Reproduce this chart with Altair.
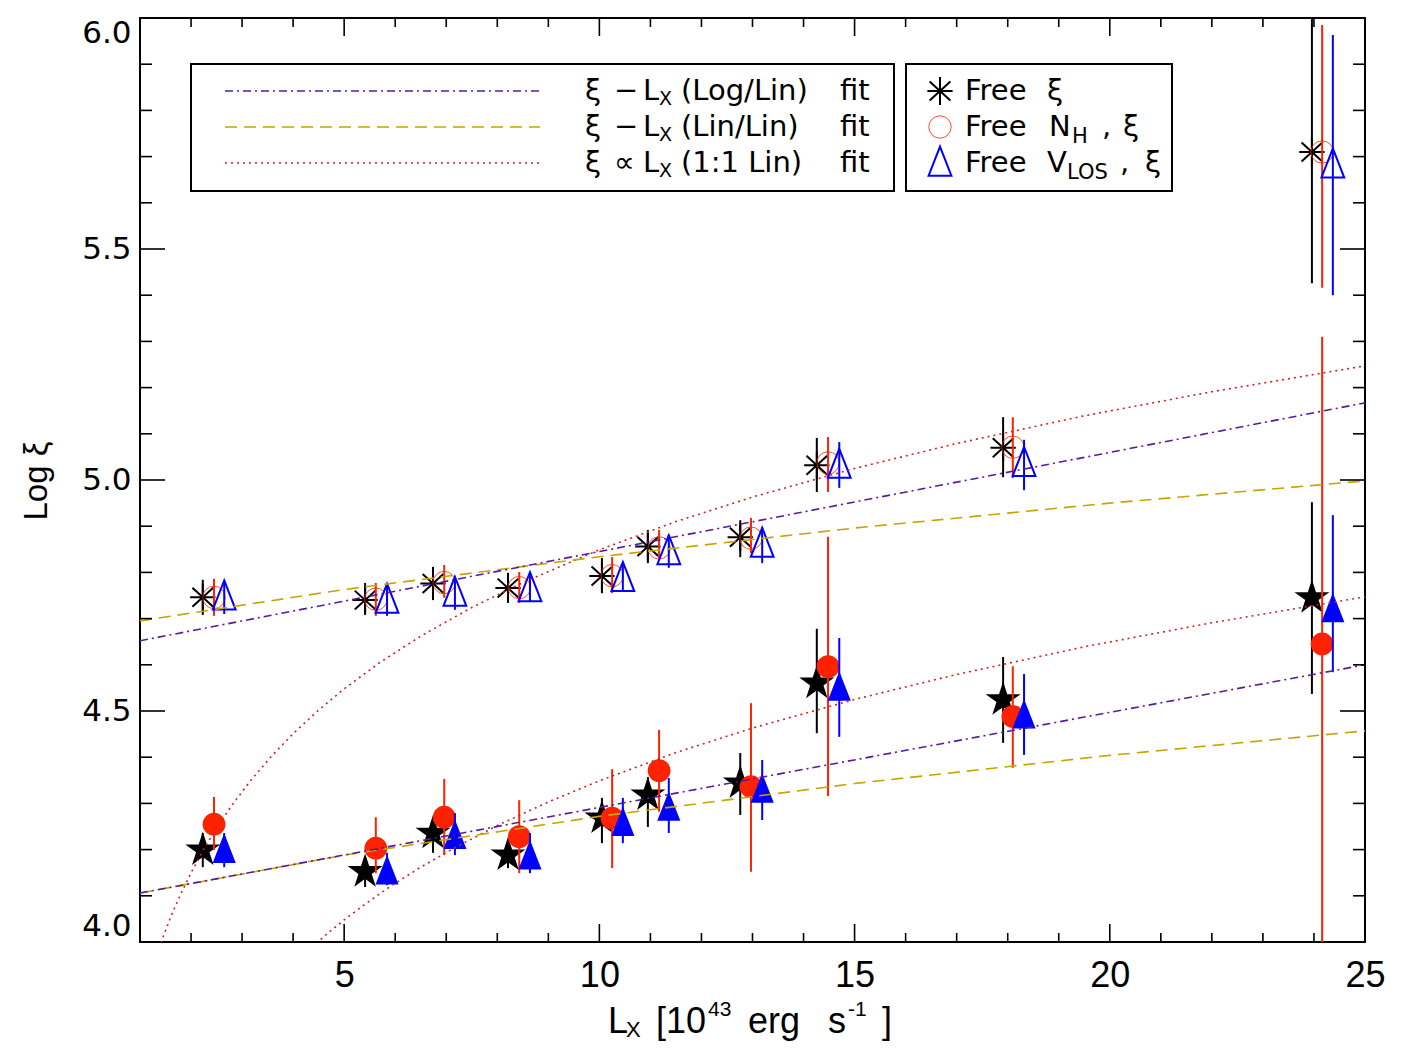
import altair as alt
import pandas as pd

# ---------------- data ----------------
# x positions (L_X, 10^43 erg/s) of the three symbol families
lx_star = [2.23, 5.41, 6.74, 8.21, 10.05, 10.95, 12.76, 14.26, 17.91, 23.96]
lx_circ = [2.45, 5.62, 6.96, 8.43, 10.25, 11.17, 12.97, 14.48, 18.10, 24.16]
lx_tri = [2.65, 5.84, 7.17, 8.64, 10.46, 11.36, 13.19, 14.70, 18.32, 24.37]

# upper group (open symbols)
up_free = [4.746, 4.740, 4.776, 4.766, 4.792, 4.856, 4.876, 5.032, 5.070, 5.710]
up_free_lo = [4.708, 4.708, 4.740, 4.734, 4.755, 4.820, 4.833, 4.974, 5.006, 5.426]
up_free_hi = [4.784, 4.777, 4.812, 4.799, 4.831, 4.892, 4.913, 5.091, 5.136, 6.030]
up_nh = [4.746, 4.742, 4.778, 4.767, 4.793, 4.853, 4.874, 5.037, 5.071, 5.710]
up_nh_lo = [4.706, 4.706, 4.745, 4.734, 4.755, 4.831, 4.842, 4.974, 5.004, 5.416]
up_nh_hi = [4.786, 4.777, 4.816, 4.801, 4.833, 4.892, 4.918, 5.093, 5.136, 5.985]
up_v = [4.747, 4.740, 4.755, 4.765, 4.787, 4.845, 4.861, 5.032, 5.036, 5.682]
up_v_lo = [4.710, 4.706, 4.719, 4.736, 4.758, 4.810, 4.820, 4.983, 4.978, 5.400]
up_v_hi = [4.781, 4.771, 4.788, 4.794, 4.822, 4.881, 4.898, 5.082, 5.087, 5.963]

# lower group (filled symbols)
lo_free = [4.199, 4.152, 4.235, 4.188, 4.268, 4.318, 4.344, 4.560, 4.524, 4.745]
lo_free_lo = [4.162, 4.119, 4.193, 4.160, 4.214, 4.249, 4.275, 4.452, 4.431, 4.537]
lo_free_hi = [4.236, 4.184, 4.268, 4.221, 4.312, 4.357, 4.409, 4.678, 4.617, 4.952]
lo_nh = [4.255, 4.203, 4.270, 4.228, 4.268, 4.371, 4.336, 4.596, 4.488, 4.645]
lo_nh_lo = [4.199, 4.149, 4.188, 4.149, 4.160, 4.282, 4.152, 4.316, 4.377, 3.870]
lo_nh_hi = [4.314, 4.270, 4.353, 4.307, 4.374, 4.459, 4.517, 4.877, 4.597, 5.310]
lo_v = [4.199, 4.152, 4.229, 4.185, 4.257, 4.290, 4.329, 4.550, 4.490, 4.720]
lo_v_lo = [4.162, 4.123, 4.188, 4.149, 4.214, 4.236, 4.264, 4.444, 4.405, 4.584]
lo_v_hi = [4.236, 4.193, 4.279, 4.236, 4.312, 4.355, 4.394, 4.658, 4.580, 4.924]

# fit curves (sampled from the figure)
loglin_x = [1.0, 25.0]
loglin_up = [4.652, 5.167]
loglin_lo = [4.106, 4.600]
linlin_x = [1.0, 5.0, 10.0, 15.0, 20.0, 25.0]
linlin_up = [4.695, 4.763, 4.834, 4.896, 4.950, 4.998]
linlin_lo = [4.106, 4.188, 4.272, 4.343, 4.404, 4.457]
one2one_up_x = [1.41, 1.5, 1.65, 1.8, 2.0, 2.25, 2.5, 2.8, 3.2, 3.6, 4.0, 4.5, 5.0,
                5.7, 6.5, 7.5, 8.5, 10.0, 11.5, 13.0, 15.0, 17.0, 19.5, 22.0, 25.0]
one2one_up = [3.998, 4.025, 4.067, 4.104, 4.150, 4.201, 4.247, 4.296, 4.354, 4.405,
              4.451, 4.502, 4.548, 4.605, 4.662, 4.724, 4.778, 4.849, 4.910, 4.963,
              5.025, 5.079, 5.139, 5.191, 5.247]
one2one_lo_x = [4.45, 4.7, 5.0, 5.4, 5.9, 6.5, 7.2, 8.0, 9.0, 10.0, 11.5, 13.0,
                15.0, 17.0, 19.5, 22.0, 25.0]
one2one_lo = [3.997, 4.021, 4.048, 4.081, 4.120, 4.162, 4.206, 4.252, 4.303, 4.349,
              4.410, 4.463, 4.525, 4.579, 4.639, 4.691, 4.747]

# axis ticks
x_labels = [5, 10, 15, 20, 25]
x_major = [5, 10, 15, 20]
x_minor = [2, 3, 4, 6, 7, 8, 9, 11, 12, 13, 14, 16, 17, 18, 19, 21, 22, 23, 24]
y_labels = [4.0, 4.5, 5.0, 5.5, 6.0]
y_major = [4.5, 5.0, 5.5]
y_minor = [4.1, 4.2, 4.3, 4.4, 4.6, 4.7, 4.8, 4.9, 5.1, 5.2, 5.3, 5.4, 5.6, 5.7, 5.8, 5.9]

# ---------------- styling ----------------
W, H = 1225, 924
BLACK, RED, BLUE = "#000000", "#ff2200", "#0000ff"
PURPLE, GOLD, DRED = "#5a1a9c", "#c9a300", "#d42020"
STAR = ("M0,-1L0.2245,-0.309L0.9511,-0.309L0.3633,0.118L0.5878,0.809L0,0.382"
        "L-0.5878,0.809L-0.3633,0.118L-0.9511,-0.309L-0.2245,-0.309Z")
ASTER = "M0,-1.1L0,1.1M-1,0L1,0M-0.82,-0.75L0.82,0.75M-0.82,0.75L0.82,-0.75"
TRI = "M0,-1.3L0.9,1L-0.9,1Z"

xs = alt.Scale(domain=[1, 25], nice=False, zero=False)
ys = alt.Scale(domain=[4.0, 6.0], nice=False, zero=False)
xaxis = alt.Axis(values=x_labels, ticks=False, domain=False, grid=False,
                 labelFont="Liberation Sans", labelFontSize=36, labelColor="black",
                 labelPadding=16, labelFlush=False, labelOverlap=False, title=None)
yaxis = alt.Axis(values=y_labels, format=".1f", ticks=False, domain=False, grid=False,
                 labelFont="DejaVu Sans", labelFontSize=31, labelColor="black",
                 labelPadding=9, labelFlush=True, labelOverlap=False, title=None)


def X(f):
    return alt.X(f, type="quantitative", scale=xs, axis=xaxis)


def Y(f):
    return alt.Y(f, type="quantitative", scale=ys, axis=yaxis)


layers = []


def series(lx, yv, lo, hi, color, shape, filled, size, sw=2.0):
    df = pd.DataFrame({"lx": lx, "y": yv, "lo": lo, "hi": hi})
    bars = alt.Chart(df).mark_rule(color=color, strokeWidth=2, clip=True).encode(
        x=X("lx"), y=Y("lo"), y2="hi")
    if filled:
        pts = alt.Chart(df).mark_point(shape=shape, filled=True, color=color, size=size,
                                       opacity=1, strokeWidth=0, clip=True)
    else:
        pts = alt.Chart(df).mark_point(shape=shape, filled=False, color=color, size=size,
                                       opacity=1, strokeWidth=sw, clip=True)
    return [bars, pts.encode(x=X("lx"), y=Y("y"))]


# upper open symbols
layers += series(lx_star, up_free, up_free_lo, up_free_hi, BLACK, ASTER, False, 640, 2)
layers += series(lx_circ, up_nh, up_nh_lo, up_nh_hi, RED, "circle", False, 500, 0.8)
layers += series(lx_tri, up_v, up_v_lo, up_v_hi, BLUE, TRI, False, 640, 2)
# lower filled symbols
layers += series(lx_star, lo_free, lo_free_lo, lo_free_hi, BLACK, STAR, True, 1350)
layers += series(lx_circ, lo_nh, lo_nh_lo, lo_nh_hi, RED, "circle", True, 520)
layers += series(lx_tri, lo_v, lo_v_lo, lo_v_hi, BLUE, TRI, True, 660)


def fitline(xv, yv, color, dash, sw=1.6):
    df = pd.DataFrame({"x": xv, "y": yv})
    return alt.Chart(df).mark_line(color=color, strokeDash=dash, strokeWidth=sw,
                                   clip=True).encode(x=X("x"), y=Y("y"))


layers += [
    fitline(one2one_up_x, one2one_up, DRED, [2, 4]),
    fitline(one2one_lo_x, one2one_lo, DRED, [2, 4]),
    fitline(linlin_x, linlin_up, GOLD, [12, 7]),
    fitline(linlin_x, linlin_lo, GOLD, [12, 7]),
    fitline(loglin_x, loglin_up, PURPLE, [8, 4, 2, 4]),
    fitline(loglin_x, loglin_lo, PURPLE, [8, 4, 2, 4]),
]

# inward ticks on all four sides
def xticks(vals, length):
    df = pd.DataFrame({"t": vals})
    b = alt.Chart(df).mark_rule(color="black", strokeWidth=1.6).encode(
        x=X("t"), y=alt.value(H), y2=alt.value(H - length))
    t = alt.Chart(df).mark_rule(color="black", strokeWidth=1.6).encode(
        x=X("t"), y=alt.value(0), y2=alt.value(length))
    return [b, t]


def yticks(vals, length):
    df = pd.DataFrame({"t": vals})
    l = alt.Chart(df).mark_rule(color="black", strokeWidth=1.6).encode(
        y=Y("t"), x=alt.value(0), x2=alt.value(length))
    r = alt.Chart(df).mark_rule(color="black", strokeWidth=1.6).encode(
        y=Y("t"), x=alt.value(W), x2=alt.value(W - length))
    return [l, r]


layers += xticks(x_major, 18) + xticks(x_minor, 9)
layers += yticks(y_major, 25) + yticks(y_minor, 12)

# ---------------- legend and titles ----------------
one = pd.DataFrame({"d": [0]})


def box(x1, x2, y1, y2):
    return alt.Chart(one).mark_rect(fill="white", stroke="black", strokeWidth=2).encode(
        x=alt.value(x1), x2=alt.value(x2), y=alt.value(y1), y2=alt.value(y2))


def txt(s, x, y, size=29, font="DejaVu Sans", angle=0, align="left"):
    return alt.Chart(one).mark_text(text=s, font=font, fontSize=size, color="black",
                                    align=align, baseline="middle", angle=angle).encode(
        x=alt.value(x), y=alt.value(y))


def sample(y, color, dash):
    return alt.Chart(one).mark_rule(color=color, strokeDash=dash, strokeWidth=1.6).encode(
        x=alt.value(85), x2=alt.value(400), y=alt.value(y))


def sym(x, y, shape, color, filled, size, sw):
    return alt.Chart(one).mark_point(shape=shape, filled=filled, color=color, size=size,
                                     opacity=1, strokeWidth=sw).encode(
        x=alt.value(x), y=alt.value(y))


rows = [73, 109, 145]
layers += [box(51, 754, 46, 173), box(766, 1032, 46, 173)]
layers += [sample(rows[0], PURPLE, [8, 4, 2, 4]), sample(rows[1], GOLD, [12, 7]),
           sample(rows[2], DRED, [2, 4])]
fit_names = ["(Log/Lin)", "(Lin/Lin)", "(1:1 Lin)"]
ops = ["\u2212", "\u2212", "\u221d"]
for r, name, op in zip(rows, fit_names, ops):
    layers += [txt("\u03be", 445, r), txt(op, 474, r), txt("L", 503, r),
               txt("X", 519, r + 8, size=19), txt(name, 541, r), txt("fit", 700, r)]

layers += [sym(800, rows[0], ASTER, BLACK, False, 640, 2),
           sym(800, rows[1], "circle", RED, False, 500, 0.8),
           sym(800, rows[2], TRI, BLUE, False, 640, 2)]
layers += [txt("Free", 825, rows[0]), txt("\u03be", 907, rows[0]),
           txt("Free", 825, rows[1]), txt("N", 909, rows[1]), txt("H", 932, rows[1] + 10, size=21),
           txt(",", 962, rows[1]), txt("\u03be", 983, rows[1]),
           txt("Free", 825, rows[2]), txt("V", 907, rows[2]), txt("LOS", 927, rows[2] + 10, size=21),
           txt(",", 980, rows[2]), txt("\u03be", 1005, rows[2])]

# axis titles
layers += [txt("Log \u03be", -103, 463, size=33, font="Liberation Sans", angle=270,
               align="center")]
TF = "Liberation Sans"
TY = 1004
layers += [txt("L", 468, TY, size=36, font=TF),
           txt("X", 486, TY + 8, size=22, font=TF),
           txt("[10", 516, TY, size=36, font=TF),
           txt("43", 568, TY - 12, size=21, font=TF),
           txt("erg", 608, TY, size=36, font=TF),
           txt("s", 688, TY, size=36, font=TF),
           txt("-1", 708, TY - 12, size=21, font=TF),
           txt("]", 742, TY, size=36, font=TF)]

chart = alt.layer(*layers).properties(
    width=W, height=H, autosize="none",
    padding={"left": 132, "top": 10, "right": 30, "bottom": 100},
    background="white",
).configure_view(stroke="black", strokeWidth=2)

chart.save("out.html", embed_options={"renderer": "svg", "actions": False})
